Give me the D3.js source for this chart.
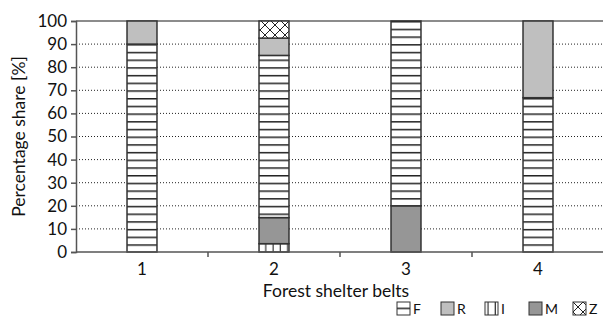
<!DOCTYPE html>
<html><head><meta charset="utf-8">
<script src="https://cdn.jsdelivr.net/npm/d3@7"></script>
<style>body{margin:0;background:#fff}svg{display:block;font-family:Lato,"Open Sans",sans-serif}</style>
</head><body>
<svg id="c" width="603" height="332"></svg>
<script>
const categories = ["1","2","3","4"];
const seriesKeys = ["I","M","F","R","Z"];
const valI = [0, 3.6, 0, 0];
const valM = [0, 11.3, 20, 0];
const valF = [90, 70.2, 80, 66.8];
const valR = [10, 7.5, 0, 33.2];
const valZ = [0, 7.4, 0, 0];
const yTicks = [0,10,20,30,40,50,60,70,80,90,100];
const legendKeys = ["F","R","I","M","Z"];

const rows = categories.map((c,i)=>({cat:c, I:valI[i], M:valM[i], F:valF[i], R:valR[i], Z:valZ[i]}));
const svg = d3.select("#c");
const L=76, Rr=604, T=21, B=252;
const x = d3.scaleBand().domain(categories).range([L,Rr]).paddingInner(0.773).paddingOuter(0.3865);
const y = d3.scaleLinear().domain([0,100]).range([B,T]);

const defs = svg.append("defs");
let p = defs.append("pattern").attr("id","pF").attr("patternUnits","userSpaceOnUse").attr("width",10).attr("height",7.7).attr("y",B);
p.append("rect").attr("width",10).attr("height",7.7).attr("fill","#fff");
p.append("line").attr("x1",0).attr("x2",10).attr("y1",0.75).attr("y2",0.75).attr("stroke","#222").attr("stroke-width",1.5);
p = defs.append("pattern").attr("id","pI").attr("patternUnits","userSpaceOnUse").attr("width",7.3).attr("height",10);
p.append("rect").attr("width",7.3).attr("height",10).attr("fill","#fff");
p.append("line").attr("x1",3).attr("x2",3).attr("y1",0).attr("y2",10).attr("stroke","#333").attr("stroke-width",1.2);
p = defs.append("pattern").attr("id","pZ").attr("patternUnits","userSpaceOnUse").attr("width",10).attr("height",10);
p.append("rect").attr("width",10).attr("height",10).attr("fill","#fff");
p.append("path").attr("d","M0,0L10,10M10,0L0,10").attr("stroke","#222").attr("stroke-width",1);
const fills = {F:"url(#pF)", R:"#bfbfbf", I:"url(#pI)", M:"#969696", Z:"url(#pZ)"};

svg.append("g").selectAll("line").data(yTicks.filter(t=>t>0&&t<100)).join("line")
  .attr("x1",L).attr("x2",Rr).attr("y1",d=>y(d)).attr("y2",d=>y(d))
  .attr("stroke","#222").attr("stroke-width",1).attr("stroke-dasharray","1,2");
svg.append("line").attr("x1",L).attr("x2",Rr).attr("y1",y(100)).attr("y2",y(100)).attr("stroke","#666").attr("stroke-width",1.5);

const stack = d3.stack().keys(seriesKeys)(rows);
svg.append("g").selectAll("g").data(stack).join("g")
  .attr("fill",d=>fills[d.key])
  .selectAll("rect").data(d=>d.filter(s=>s[1]-s[0]>0)).join("rect")
  .attr("x",d=>x(d.data.cat)).attr("width",x.bandwidth())
  .attr("y",d=>y(d[1])).attr("height",d=>y(d[0])-y(d[1]))
  .attr("stroke","#333").attr("stroke-width",1.5);

const ya = svg.append("g").attr("transform",`translate(${L},0)`)
  .call(d3.axisLeft(y).tickValues(yTicks).tickSize(5).tickPadding(4));
ya.select(".domain").attr("stroke","#555").attr("stroke-width",1.5);
ya.selectAll(".tick line").attr("stroke","#555").attr("stroke-width",1.5);
ya.selectAll("text").attr("font-size",17).attr("fill","#111").attr("font-family","Lato");

const xa = svg.append("g").attr("transform",`translate(0,${B})`);
xa.append("line").attr("x1",L).attr("x2",Rr).attr("stroke","#555").attr("stroke-width",1.5);
const bounds = categories.slice(1).map(c=>x(c)-x.step()*x.paddingInner()/2);
xa.selectAll(".tk").data(bounds).join("line").attr("class","tk").attr("x1",d=>d).attr("x2",d=>d).attr("y1",0).attr("y2",5).attr("stroke","#555").attr("stroke-width",1.5);
xa.selectAll("text").data(categories).join("text")
  .attr("x",d=>x(d)+x.bandwidth()/2).attr("y",23).attr("text-anchor","middle")
  .attr("font-size",17).attr("fill","#111").text(d=>d);

svg.append("text").attr("x",(L+Rr)/2-4).attr("y",297).attr("text-anchor","middle").attr("font-size",17.5).attr("fill","#111").text("Forest shelter belts");
svg.append("text").attr("transform",`translate(25,${(T+B)/2}) rotate(-90)`).attr("text-anchor","middle").attr("font-size",17.5).attr("fill","#111").text("Percentage share [%]");

const lg = svg.append("g").selectAll("g").data(legendKeys).join("g").attr("transform",(d,i)=>`translate(${397+i*44},302)`);
lg.append("rect").attr("width",13).attr("height",13).attr("fill",d=>fills[d]).attr("stroke","#333").attr("stroke-width",1);
lg.append("text").attr("x",16).attr("y",12).attr("font-size",14).attr("fill","#111").text(d=>d);
</script>
</body></html>
